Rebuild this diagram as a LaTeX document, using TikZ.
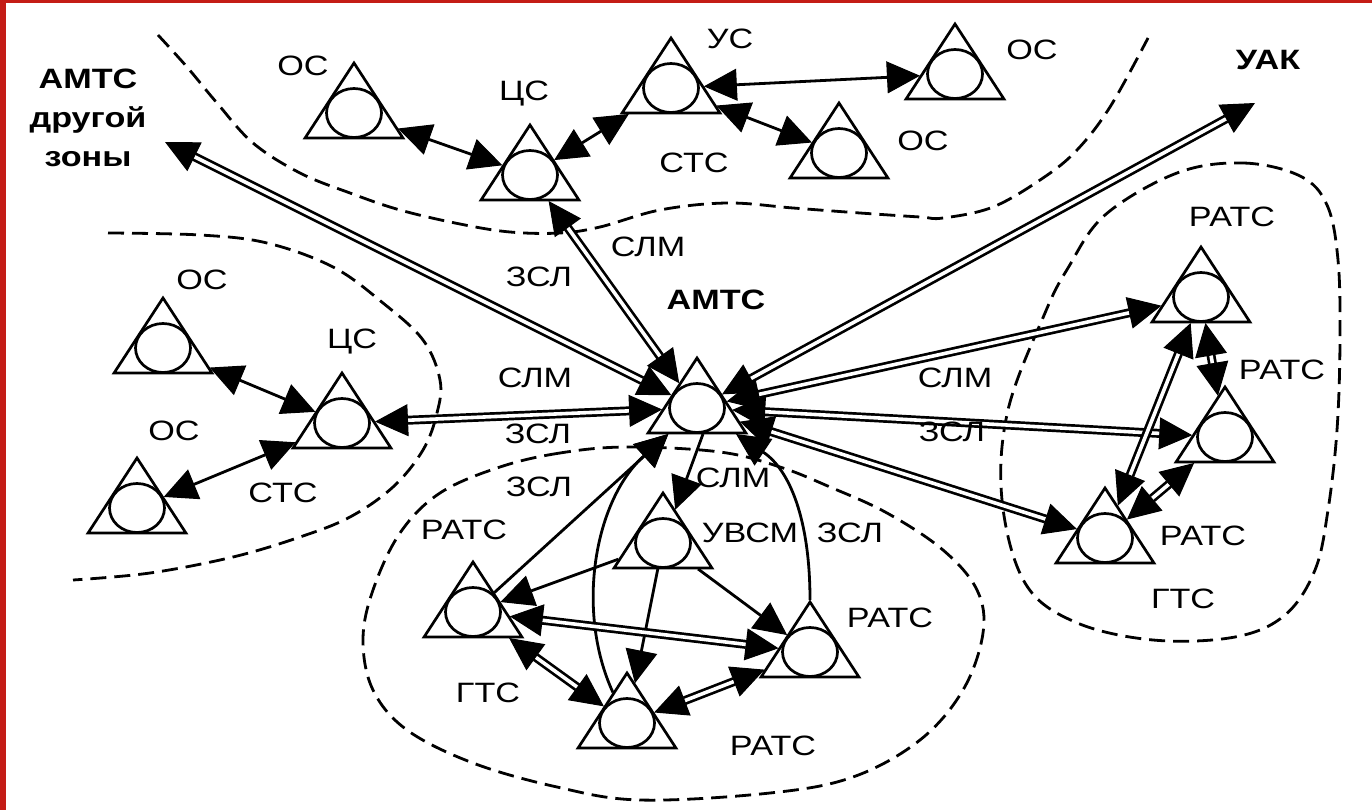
\documentclass[tikz,border=0pt]{standalone}
\usepackage{fontspec}
\setmainfont{Liberation Sans}
\usetikzlibrary{arrows.meta,shapes.geometric}

\definecolor{framered}{RGB}{196,28,22}

\tikzset{
  stnode/.style={regular polygon, regular polygon sides=3, minimum size=100pt,
    inner sep=0pt, outer sep=1pt, xscale=1.13, draw, fill=white,
    line width=2.7pt, line join=miter},
  ring/.style={line width=2.7pt},
  headA/.tip={Triangle[length=33pt,width=32pt,line width=1pt]},
  simplex/.style={line width=2.8pt, headA-headA},
  oneway/.style={line width=2.8pt, -headA},
  duplex/.style={double, double distance=3.6pt, line width=2.7pt, headA-headA},
  zoneline/.style={dash pattern=on 16pt off 8pt, line width=2.8pt},
  lab/.style={font=\fontsize{28}{30}\selectfont, xscale=1.22, inner sep=0pt,
    text height=20pt, text depth=0pt},
  blab/.style={lab, font=\fontsize{28}{30}\selectfont\bfseries},
}

% one exchange: triangle node with its inscribed ring
\newcommand\exchange[3]{%
  \node[stnode] (#1) at (#2,#3) {};
  \draw[ring] (#1.center) ellipse [x radius=27.5pt, y radius=24.5pt];
}

\begin{document}
\begin{tikzpicture}[x=1pt, y=-1pt]
\useasboundingbox (0,0) rectangle (1372,810);
\fill[white] (0,0) rectangle (1372,810);
\fill[framered] (0,0) rectangle (1372,3.5);
\fill[framered] (0,0) rectangle (6,810);

% zone boundaries
\draw[zoneline] plot[smooth, tension=0.6] coordinates {
  (158,35) (187,67) (217,103) (253,143) (300,173) (350,193) (400,210)
  (460,224) (510,232) (560,233) (600,227) (660,210) (727,203) (793,208)
  (860,213) (920,217) (943,218) (993,207) (1043,178) (1077,150)
  (1110,107) (1148,38)};
\draw[zoneline] plot[smooth, tension=0.6] coordinates {
  (108,233) (200,235) (267,243) (333,267) (383,303) (423,340) (440,380)
  (437,413) (423,450) (393,487) (350,517) (300,537) (233,557) (150,573)
  (73,580)};
\draw[zoneline] plot[smooth cycle, tension=0.6] coordinates {
  (627,447) (560,453) (500,467) (440,493) (400,533) (373,590) (363,640)
  (373,690) (407,730) (473,763) (557,787) (640,800) (770,793) (853,777)
  (920,740) (963,690) (983,633) (977,590) (943,550) (887,513) (830,487)
  (780,467) (720,452)};
\draw[zoneline] plot[smooth cycle, tension=0.6] coordinates {
  (1177,173) (1243,163) (1300,176) (1327,205) (1338,260) (1340,340)
  (1337,430) (1328,510) (1315,570) (1285,615) (1235,637) (1153,640)
  (1075,622) (1025,583) (1002,500) (1008,410) (1045,313) (1068,268)
  (1105,215)};

% exchanges
\exchange{osA}{354}{113}
\exchange{csT}{530}{175}
\exchange{us}{671}{88}
\exchange{osB}{955}{74}
\exchange{osC}{839}{153}
\exchange{osL1}{163}{348}
\exchange{csL}{342}{423}
\exchange{osL2}{137}{508}
\exchange{amts}{697}{408}
\exchange{uvsm}{663}{543}
\exchange{rl}{473}{612}
\exchange{rb}{627}{723}
\exchange{rr}{810}{652}
\exchange{g1}{1201}{297}
\exchange{g2}{1225}{437}
\exchange{g3}{1105}{538}

% free ends of the long trunks
\coordinate (oz) at (165,142);
\coordinate (uak) at (1255,103);

% local networks
\draw[simplex] (osA) -- (csT);
\draw[simplex] (csT) -- (us);
\draw[simplex] (us) -- (osB);
\draw[simplex] (us) -- (osC);
\draw[simplex] (osL1) -- (csL);
\draw[simplex] (osL2) -- (csL);

% trunks of the AMTC
\draw[duplex] (amts) -- (csT);
\draw[duplex] (amts) -- (oz);
\draw[duplex] (amts) -- (uak);
\draw[duplex] (amts) -- (csL);
\draw[duplex] (amts) -- (g1);
\draw[duplex] (amts) -- (g2);
\draw[duplex] (amts) -- (g3);

% right city network
\draw[duplex] (g1) -- (g3);
\draw[duplex] (g1) -- (g2);
\draw[duplex] (g2) -- (g3);

% lower city network
\draw[oneway] (rl) -- (amts);
\draw[oneway] (rb) .. controls (575,610) and (595,500) .. (amts);
\draw[oneway] (rr) .. controls (810,520) and (790,470) .. (amts);
\draw[oneway] ([xshift=6pt]amts.south) -- (uvsm);
\draw[oneway] (uvsm) -- (rl);
\draw[oneway] (uvsm) -- (rb);
\draw[oneway] (uvsm) -- (rr);
\draw[duplex] (rl) -- (rr);
\draw[duplex] (rl) -- (rb);
\draw[duplex] (rb) -- (rr);

% labels
\node[blab, align=center, anchor=north, text height=, text depth=,
  font=\fontsize{28}{39}\selectfont\bfseries] (tOther) at (88,69)
  {АМТС\\другой\\зоны};
\node[blab] (tUak) at (1268,59.5) {УАК};
\node[blab] (tAmts) at (716,299) {АМТС};
\node[lab] (tOsA) at (303,65.5) {ОС};
\node[lab] (tCsT) at (524,91) {ЦС};
\node[lab] (tUs) at (730,38.5) {УС};
\node[lab] (tOsB) at (1032,49.5) {ОС};
\node[lab] (tOsC) at (923,141) {ОС};
\node[lab] (tStsT) at (694,162.5) {СТС};
\node[lab] (tSlmA) at (648,247) {СЛМ};
\node[lab] (tZslA) at (539,276) {ЗСЛ};
\node[lab] (tSlmB) at (535,377) {СЛМ};
\node[lab] (tZslB) at (538,433) {ЗСЛ};
\node[lab] (tZslC) at (539,486) {ЗСЛ};
\node[lab] (tOsL1) at (202,279) {ОС};
\node[lab] (tCsL) at (352,338) {ЦС};
\node[lab] (tOsL2) at (174,430) {ОС};
\node[lab] (tStsL) at (283,492) {СТС};
\node[lab] (tSlmC) at (733,477) {СЛМ};
\node[lab] (tUvsm) at (750,532) {УВСМ};
\node[lab] (tZslD) at (850,532) {ЗСЛ};
\node[lab] (tRl) at (464,529) {РАТС};
\node[lab] (tGtsB) at (488,692) {ГТС};
\node[lab] (tRb) at (773,745) {РАТС};
\node[lab] (tRr) at (890,617) {РАТС};
\node[lab] (tSlmD) at (955,377) {СЛМ};
\node[lab] (tZslE) at (952,431) {ЗСЛ};
\node[lab] (tG1) at (1232,217) {РАТС};
\node[lab] (tG2) at (1282,369) {РАТС};
\node[lab] (tG3) at (1203,535) {РАТС};
\node[lab] (tGtsR) at (1183,598) {ГТС};
\end{tikzpicture}
\end{document}
